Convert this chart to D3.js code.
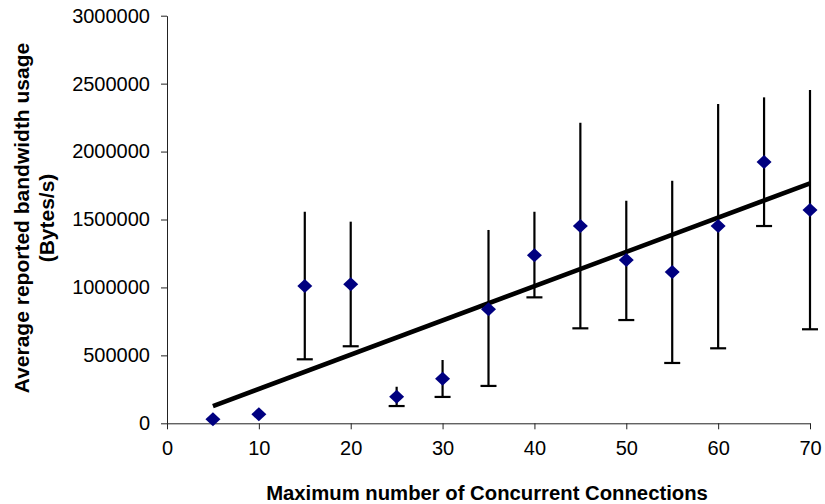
<!DOCTYPE html>
<html><head><meta charset="utf-8">
<script src="https://cdn.jsdelivr.net/npm/d3@7"></script>
<style>body{margin:0;background:#fff}svg{display:block}</style>
</head><body>
<svg id="chart" width="825" height="504"></svg>
<script>
const connections = [5,10,15,20,25,30,35,40,45,50,55,60,65,70];
const meanUsage  = [30000,66000,1010000,1023000,196000,328000,839000,1236000,1452000,1202000,1113000,1452000,1923000,1570000];
const upperUsage = [30000,66000,1557000,1484000,269000,466000,1423000,1557000,2212000,1638000,1785000,2350000,2399000,2453000];
const lowerUsage = [30000,66000,471000,567000,127000,194000,275000,927000,699000,760000,444000,552000,1452000,692000];
const trendX = [5,70];
const trendY = [127000,1766000];
const xTicks = [0,10,20,30,40,50,60,70];
const yTicks = [0,500000,1000000,1500000,2000000,2500000,3000000];

const svg = d3.select("#chart");
const font = "'Liberation Sans', Arial, sans-serif";
const x = d3.scaleLinear().domain([0,70]).range([167,810]);
const y = d3.scaleLinear().domain([0,3000000]).range([423.3,15.7]);

const xAxis = svg.append("g").attr("transform","translate(0,423.3)")
  .call(d3.axisBottom(x).tickValues(xTicks).tickSize(6).tickPadding(12).tickSizeOuter(0).tickFormat(d3.format("d")));
const yAxis = svg.append("g").attr("transform","translate(167,0)")
  .call(d3.axisLeft(y).tickValues(yTicks).tickSize(6).tickPadding(11).tickSizeOuter(0).tickFormat(d3.format("d")));
[xAxis,yAxis].forEach(a=>{
  a.selectAll("path,line").attr("stroke","#222").attr("stroke-width",1);
  a.selectAll("text").attr("font-family",font).attr("font-size",20).attr("fill","#000");
});

const pts = connections.map((c,i)=>({c,m:meanUsage[i],u:upperUsage[i],l:lowerUsage[i]}));
const eb = svg.append("g").attr("stroke","#000").attr("stroke-width",2.2);
pts.forEach(p=>{
  if (p.u!==p.l){
    eb.append("line").attr("x1",x(p.c)).attr("x2",x(p.c)).attr("y1",y(p.u)).attr("y2",y(p.l));
    eb.append("line").attr("x1",x(p.c)-8).attr("x2",x(p.c)+8).attr("y1",y(p.l)).attr("y2",y(p.l));
  }
});

svg.append("line").attr("x1",x(trendX[0])).attr("y1",y(trendY[0]))
  .attr("x2",x(trendX[1])).attr("y2",y(trendY[1]))
  .attr("stroke","#000").attr("stroke-width",4.5);

const diamond = {draw(ctx){ ctx.moveTo(0,-7); ctx.lineTo(7.5,0); ctx.lineTo(0,7); ctx.lineTo(-7.5,0); ctx.closePath(); }};
const sym = d3.symbol().type(diamond);
svg.append("g").selectAll("path").data(pts).join("path")
  .attr("d",sym).attr("transform",d=>`translate(${x(d.c)},${y(d.m)})`)
  .attr("fill","#000080");

svg.append("text").attr("x",487).attr("y",500).attr("text-anchor","middle")
  .attr("font-family",font).attr("font-weight","bold").attr("font-size",20.3)
  .text("Maximum number of Concurrent Connections");
const yt = svg.append("text").attr("transform","translate(0,218) rotate(-90)")
  .attr("text-anchor","middle").attr("font-family",font).attr("font-weight","bold").attr("font-size",21);
yt.append("tspan").attr("x",0).attr("y",29).text("Average reported bandwidth usage");
yt.append("tspan").attr("x",0).attr("y",54).text("(Bytes/s)");
</script>
</body></html>
